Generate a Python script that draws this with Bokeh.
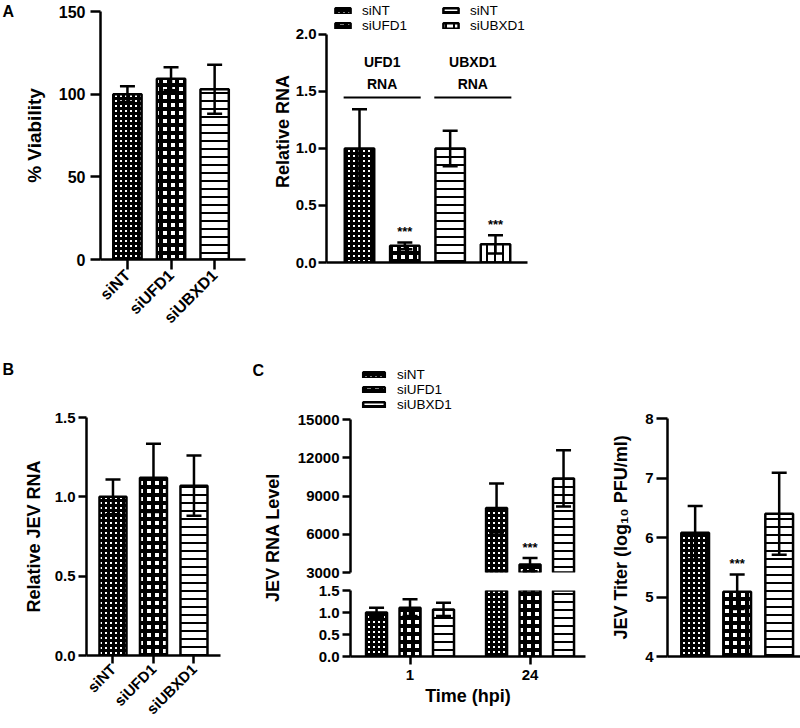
import math
from bokeh.plotting import figure
from bokeh.models import (ColumnDataSource, Range1d, FixedTicker, NumeralTickFormatter, Whisker,
                          TeeHead, Legend, LegendItem, Label, Spacer)
from bokeh.layouts import row, column
from bokeh.embed import file_html
from bokeh.resources import INLINE
from bokeh.core.properties import value

# ---------------- data ----------------
conditions = ["siNT", "siUFD1", "siUBXD1"]

viability = [100, 109.3, 103]
viability_err = [4.8, 7, 14.8]

rna_targets = ["UFD1 RNA", "UBXD1 RNA"]
rna_bar_target = ["UFD1 RNA", "UFD1 RNA", "UBXD1 RNA", "UBXD1 RNA"]
rna_bar_condition = ["siNT", "siUFD1", "siNT", "siUBXD1"]
relative_rna = [1.0, 0.146, 1.0, 0.16]
relative_rna_err = [0.345, 0.03, 0.155, 0.08]
relative_rna_sig = ["", "***", "", "***"]

jev_rna_rel = [1.0, 1.12, 1.07]
jev_rna_rel_err = [0.11, 0.215, 0.19]

hpi = ["1", "24"]
jev_level_siNT = [1.0, 8060]
jev_level_siNT_err = [0.11, 1930]
jev_level_siUFD1 = [1.11, 3620]
jev_level_siUFD1_err = [0.19, 515]
jev_level_siUBXD1 = [1.07, 10380]
jev_level_siUBXD1_err = [0.15, 2200]
jev_level_sig_siNT = ["", ""]
jev_level_sig_siUFD1 = ["", "***"]
jev_level_sig_siUBXD1 = ["", ""]

jev_titer = [6.08, 5.09, 6.40]
jev_titer_err = [0.45, 0.29, 0.69]
jev_titer_sig = ["", "***", ""]

# ---------------- styles ----------------
FONT = "Liberation Sans"
LW = 2.5
BRACKET_Y = 1.447
DODGE = 0.279
C_UPPER = (3000, 15000)
C_LOWER = (0, 1.5)

STYLE = {
    "fine": dict(fill="white", hatchc="black", pat="cross", scale=5, weight=3),
    "coarse": dict(fill="white", hatchc="black", pat="cross", scale=8, weight=4),
    "hline": dict(fill="white", hatchc="black", pat="horizontal_line", scale=8, weight=2),
    "vline": dict(fill="white", hatchc="black", pat="vertical_line", scale=8, weight=2),
}
COND_STYLE = {"siNT": "fine", "siUFD1": "coarse", "siUBXD1": "hline"}
RNA_BAR_STYLE = ["fine", "coarse", "hline", "vline"]


def make_source(xs, vals, errs, styles, sigs=None, rows=None):
    n = len(vals)
    rows = list(range(n)) if rows is None else rows
    sigs = [""] * n if sigs is None else sigs
    d = dict(x=[xs[i] for i in rows], top=[vals[i] for i in rows],
             upper=[vals[i] + errs[i] for i in rows],
             lower=[vals[i] - errs[i] for i in rows],
             sig=[sigs[i] for i in rows])
    for k in ("fill", "hatchc", "pat", "scale", "weight"):
        d[k] = [STYLE[styles[i]][k] for i in rows]
    return ColumnDataSource(d)


def make_fig(width, height, left, right, top, bottom, x_range, y_range, xaxis=True, tick=8):
    p = figure(width=width, height=height, x_range=x_range, y_range=y_range,
               min_border_left=left, min_border_right=right,
               min_border_top=top, min_border_bottom=bottom,
               output_backend="svg", toolbar_location=None, tools="",
               x_axis_location="below" if xaxis else None)
    p.grid.visible = False
    p.outline_line_color = None
    for ax in p.axis:
        ax.axis_line_width = LW
        ax.axis_line_color = "black"
        ax.major_tick_line_width = LW
        ax.major_tick_line_color = "black"
        ax.major_tick_in = 0
        ax.major_tick_out = tick
        ax.minor_tick_line_color = None
        ax.major_label_text_font = FONT
        ax.major_label_text_font_style = "bold"
        ax.major_label_text_font_size = "15px"
        ax.major_label_text_color = "black"
        ax.major_label_standoff = 3
        ax.axis_label_text_font = FONT
        ax.axis_label_text_font_style = "bold"
        ax.axis_label_text_font_size = "18px"
        ax.axis_label_text_color = "black"
    return p


def blank_fig(width, height):
    f = figure(width=width, height=height, x_range=Range1d(0, 1), y_range=Range1d(0, 1),
               min_border=0, output_backend="svg", toolbar_location=None, tools="",
               x_axis_location=None, y_axis_location=None)
    f.grid.visible = False
    f.outline_line_color = None
    return f


def add_text(f, txt, sx, sy, size="16px", angle=0.0, align="left"):
    f.add_layout(Label(x=sx, y=sy, x_units="screen", y_units="screen", text=txt, angle=angle,
                       text_font=FONT, text_font_style="bold", text_font_size=size,
                       text_align=align, text_baseline="middle", text_color="black"))


def draw_bars(p, src, width, wsrc=None):
    wsrc = src if wsrc is None else wsrc
    r = p.vbar(x="x", top="top", width=width, source=src,
               fill_color="fill", line_color="black", line_width=LW,
               hatch_pattern="pat", hatch_color="hatchc", hatch_scale="scale",
               hatch_weight="weight")
    w = Whisker(source=wsrc, base="x", upper="upper", lower="lower",
                line_color="black", line_width=LW, level="annotation",
                upper_head=TeeHead(size=15, line_width=LW, line_color="black"),
                lower_head=TeeHead(size=15, line_width=LW, line_color="black"))
    p.add_layout(w)
    p.text(x="x", y="upper", text="sig", source=wsrc, text_font=value(FONT),
           text_font_size="13px", text_font_style="bold", text_align="center",
           text_baseline="bottom", y_offset=-3, text_color="black")
    return r


def make_legend(items, loc, gw, gh):
    return Legend(items=items, location=loc, orientation="vertical",
                  glyph_width=gw, glyph_height=gh, label_height=13, spacing=-2,
                  padding=0, margin=0, border_line_color=None, background_fill_alpha=0,
                  label_text_font=FONT, label_text_font_size="13.5px",
                  label_standoff=10, label_text_color="black")


ROW1_H = 362
ROW2_H = 366

# ---------------- A (left): viability ----------------
fLA = blank_fig(20, ROW1_H)
add_text(fLA, "A", 2, ROW1_H - 11)

xa = [i + 1 for i in range(len(conditions))]
fA1 = make_fig(238, ROW1_H, 77, 13, 11, 103, Range1d(0.382, 3.708), Range1d(0, 150), tick=10)
srcA1 = make_source(xa, viability, viability_err, [COND_STYLE[c] for c in conditions])
draw_bars(fA1, srcA1, 0.65)
fA1.yaxis.ticker = FixedTicker(ticks=[0, 50, 100, 150])
fA1.yaxis.axis_label = "% Viability"
fA1.yaxis.axis_label_text_font_size = "19px"
fA1.yaxis.axis_label_standoff = 11
fA1.yaxis.major_label_standoff = 5
fA1.yaxis.major_label_text_font_size = "16px"
fA1.xaxis.ticker = FixedTicker(ticks=xa)
fA1.xaxis.major_label_overrides = {x: c for x, c in zip(xa, conditions)}
fA1.xaxis.major_label_orientation = math.pi / 4
fA1.xaxis.major_label_text_font_size = "16px"

# ---------------- A (right): relative RNA ----------------
xr = [i + 1 for i in range(len(relative_rna))]
fA2 = make_fig(287, ROW1_H, 68, 18, 0, 100, Range1d(0.272, 4.706), Range1d(0, 2.298))
srcA2 = make_source(xr, relative_rna, relative_rna_err, RNA_BAR_STYLE, relative_rna_sig)
rA2 = draw_bars(fA2, srcA2, 0.65)
fA2.yaxis.ticker = FixedTicker(ticks=[0, 0.5, 1.0, 1.5, 2.0])
fA2.yaxis.formatter = NumeralTickFormatter(format="0.0")
fA2.yaxis.bounds = (0, 2)
fA2.yaxis.axis_label = "Relative RNA"
fA2.yaxis.axis_label_standoff = 0
fA2.yaxis.major_label_standoff = 2
fA2.xaxis.ticker = FixedTicker(ticks=[])
gx0, gx1, gxm, glab = [], [], [], []
for t in rna_targets:
    pos = [x for x, tt in zip(xr, rna_bar_target) if tt == t]
    gx0.append(min(pos) - 0.35)
    gx1.append(max(pos) + 0.35)
    gxm.append(sum(pos) / len(pos))
    glab.append(t.replace(" ", "\n"))
gsrc = ColumnDataSource(dict(x0=gx0, x1=gx1, xm=gxm, y=[BRACKET_Y] * len(gx0), lab=glab))
fA2.segment(x0="x0", x1="x1", y0="y", y1="y", source=gsrc, line_color="black", line_width=1.8)
fA2.text(x="xm", y="y", text="lab", source=gsrc, text_font=value(FONT), text_font_size="14px",
         text_font_style="bold", text_align="center", text_baseline="bottom", y_offset=-6,
         text_line_height=1.35, text_color="black")
fA2.add_layout(make_legend([LegendItem(label=rna_bar_condition[i], renderers=[rA2], index=i)
                            for i in (0, 1)], (7, 229), 19, 7))
fA2.add_layout(make_legend([LegendItem(label=rna_bar_condition[i], renderers=[rA2], index=i)
                            for i in (2, 3)], (115, 229), 19, 7))

# ---------------- B: relative JEV RNA ----------------
fLB = blank_fig(20, ROW2_H)
add_text(fLB, "B", 2, ROW2_H - 7)

xb = [i + 1 for i in range(len(conditions))]
fB = make_fig(232, ROW2_H, 66, 32, 55, 73, Range1d(0.346, 3.655), Range1d(0, 1.5))
srcB = make_source(xb, jev_rna_rel, jev_rna_rel_err, [COND_STYLE[c] for c in conditions])
draw_bars(fB, srcB, 0.667)
fB.yaxis.ticker = FixedTicker(ticks=[0, 0.5, 1.0, 1.5])
fB.yaxis.formatter = NumeralTickFormatter(format="0.0")
fB.yaxis.axis_label = "Relative JEV RNA"
fB.yaxis.axis_label_standoff = 8
fB.xaxis.ticker = FixedTicker(ticks=xb)
fB.xaxis.major_label_overrides = {x: c for x, c in zip(xb, conditions)}
fB.xaxis.major_label_orientation = math.pi / 4

# ---------------- C (left): JEV RNA level, broken axis ----------------
level_vals = [jev_level_siNT, jev_level_siUFD1, jev_level_siUBXD1]
level_errs = [jev_level_siNT_err, jev_level_siUFD1_err, jev_level_siUBXD1_err]
level_sigs = [jev_level_sig_siNT, jev_level_sig_siUFD1, jev_level_sig_siUBXD1]
cx, cv, ce, cs, cst = [], [], [], [], []
for ci, c in enumerate(conditions):
    for ti, t in enumerate(hpi):
        cx.append(ti + (ci - 1) * DODGE)
        cv.append(level_vals[ci][ti])
        ce.append(level_errs[ci][ti])
        cs.append(level_sigs[ci][ti])
        cst.append(COND_STYLE[c])
upper_rows = [i for i in range(len(cv)) if cv[i] > C_UPPER[0]]
lower_whisker_rows = [i for i in range(len(cv)) if cv[i] + ce[i] <= C_LOWER[1]]

fCL = blank_fig(36, ROW2_H)
add_text(fCL, "C", 0, ROW2_H - 8)
add_text(fCL, "JEV RNA Level", 20, 191, size="18px", angle=math.pi / 2, align="center")

xr_c = (-0.496, 1.462)
fCu = make_fig(310, 219, 62, 13, 0, 9, Range1d(*xr_c), Range1d(C_UPPER[0], 19471), xaxis=False)
srcCu = make_source(cx, cv, ce, cst, cs, rows=upper_rows)
rCu = draw_bars(fCu, srcCu, 0.175)
fCu.yaxis.ticker = FixedTicker(ticks=[3000, 6000, 9000, 12000, 15000])
fCu.yaxis.formatter = NumeralTickFormatter(format="0")
fCu.yaxis.bounds = C_UPPER
fCu.add_layout(make_legend([LegendItem(label=c, renderers=[rCu], index=ci)
                            for ci, c in enumerate(conditions)], (10, 160), 27, 7))

fCl = make_fig(310, 147, 62, 13, 9, 72, Range1d(*xr_c), Range1d(*C_LOWER))
srcCl = make_source(cx, cv, ce, cst, cs)
srcClw = make_source(cx, cv, ce, cst, cs, rows=lower_whisker_rows)
draw_bars(fCl, srcCl, 0.175, srcClw)
fCl.yaxis.ticker = FixedTicker(ticks=[0, 0.5, 1.0, 1.5])
fCl.yaxis.formatter = NumeralTickFormatter(format="0.0")
xt = list(range(len(hpi)))
fCl.xaxis.ticker = FixedTicker(ticks=xt)
fCl.xaxis.major_label_overrides = {x: h for x, h in zip(xt, hpi)}
fCl.xaxis.major_label_standoff = 5
fCl.xaxis.axis_label = "Time (hpi)"
fCl.xaxis.axis_label_standoff = 3

# ---------------- C (right): JEV titer ----------------
xd = [i + 1 for i in range(len(conditions))]
fD = make_fig(202, ROW2_H, 69, 0, 56, 72, Range1d(0.342, 3.507), Range1d(4, 8), tick=11)
srcD = make_source(xd, jev_titer, jev_titer_err, [COND_STYLE[c] for c in conditions], jev_titer_sig)
draw_bars(fD, srcD, 0.66)
fD.yaxis.ticker = FixedTicker(ticks=[4, 5, 6, 7, 8])
fD.yaxis.formatter = NumeralTickFormatter(format="0")
fD.yaxis.axis_label = "JEV Titer (log\u2081\u2080 PFU/ml)"
fD.yaxis.axis_label_standoff = 11
fD.xaxis.ticker = FixedTicker(ticks=[])

layout = column(
    row(column(fLA), column(fA1), column(fA2), Spacer(width=255, height=ROW1_H)),
    row(column(fLB), column(fB), column(fCL), column(fCu, fCl), column(fD)),
)

with open("out.html", "w") as f:
    f.write(file_html(layout, INLINE))
